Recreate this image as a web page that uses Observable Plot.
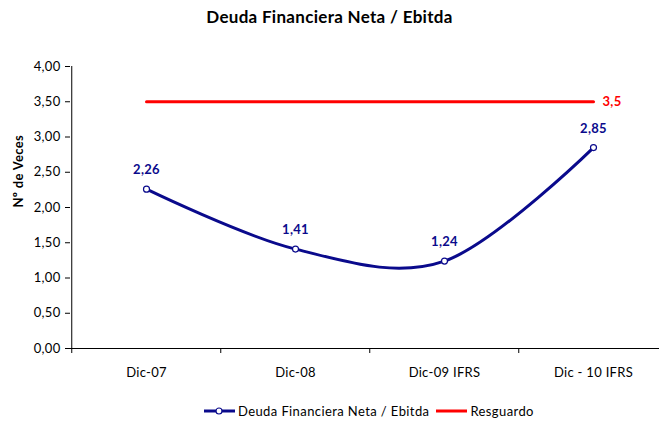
<!DOCTYPE html>
<html><head><meta charset="utf-8">
<script src="https://cdn.jsdelivr.net/npm/d3@7"></script>
<script src="https://cdn.jsdelivr.net/npm/@observablehq/plot@0.6"></script>
<style>
html,body{margin:0;padding:0;background:#fff;overflow:hidden;width:659px;height:423px;font-family:Lato,"Open Sans",sans-serif;}
#title{height:35px;line-height:34px;text-align:center;font-weight:bold;font-size:17px;letter-spacing:0.3px;color:#000;width:659px;}
#legend{display:flex;align-items:center;height:33px;padding-left:203px;font-size:13px;letter-spacing:0.4px;color:#000;}
#chart{width:659px;height:359px;overflow:hidden}
#chart svg{display:block;max-width:none !important}
</style></head>
<body>
<div id="title">Deuda Financiera Neta / Ebitda</div>
<div id="chart"></div>
<div id="legend"></div>
<script>
const categories = ["Dic-07", "Dic-08", "Dic-09 IFRS", "Dic - 10 IFRS"];
const deuda = [2.26, 1.41, 1.24, 2.85];
const resguardo = [3.5, 3.5, 3.5, 3.5];
const yTicks = [0, 0.5, 1, 1.5, 2, 2.5, 3, 3.5, 4];
const seriesNames = ["Deuda Financiera Neta / Ebitda", "Resguardo"];
const colors = ["#0A0A8C", "#FF0000"];

const fmt2 = d => d.toFixed(2).replace(".", ",");
const fmtR = d => String(d).replace(".", ",");
const rows = categories.map((c, i) => ({cat: c, deuda: deuda[i], resguardo: resguardo[i]}));
const last = rows.slice(-1);

const W = 669, ML = 70, MR = 1;
const step = (W - ML - MR) / categories.length;

const plot = Plot.plot({
  width: W, height: 359,
  marginTop: 31, marginLeft: ML, marginRight: MR, marginBottom: 46,
  style: {fontFamily: "Lato, 'Open Sans', sans-serif", fontSize: "13px", letterSpacing: "0.3px", color: "#000", background: "transparent", overflow: "visible", maxWidth: "none"},
  x: {type: "point", domain: categories, padding: 0.5, axis: null},
  y: {domain: [0, 4], axis: null},
  marks: [
    Plot.axisY({ticks: yTicks, tickFormat: fmt2, tickSize: 5, tickPadding: 5, label: null, fontSize: 13}),
    Plot.ruleX([0], {x: () => categories[0], dx: -step / 2, y1: 0, y2: 4, stroke: "#000"}),
    Plot.ruleY([0], {stroke: "#000"}),
    Plot.axisX({ticks: categories, tickSize: 5, text: null, label: null, dx: -step / 2}),
    Plot.axisX({ticks: categories, tickSize: 0, tickPadding: 19, label: null, fontSize: 13}),
    Plot.text(["Nº de Veces"], {frameAnchor: "left", dx: -52, rotate: -90, fontWeight: "bold", fontSize: 13}),
    Plot.line(rows, {x: "cat", y: "resguardo", stroke: colors[1], strokeWidth: 3}),
    Plot.text(last, {x: "cat", y: "resguardo", text: d => fmtR(d.resguardo), dx: 9, textAnchor: "start", fill: colors[1], fontWeight: "bold", fontSize: 13}),
    Plot.line(rows, {x: "cat", y: "deuda", stroke: colors[0], strokeWidth: 3, curve: d3.curveCardinal.tension(0)}),
    Plot.dot(rows, {x: "cat", y: "deuda", r: 3, fill: "#fff", stroke: colors[0], strokeWidth: 1.2}),
    Plot.text(rows, {x: "cat", y: "deuda", text: d => fmt2(d.deuda), dy: -19, fill: colors[0], fontWeight: "bold", fontSize: 13})
  ]
});
document.getElementById("chart").appendChild(plot);

const legend = document.getElementById("legend");
seriesNames.forEach((name, i) => {
  const sw = document.createElementNS("http://www.w3.org/2000/svg", "svg");
  sw.setAttribute("width", 33); sw.setAttribute("height", 10);
  sw.innerHTML = `<line x1="1" x2="32" y1="5" y2="5" stroke="${colors[i]}" stroke-width="3"/>` +
    (i === 0 ? `<circle cx="16" cy="5" r="3" fill="#fff" stroke="${colors[i]}" stroke-width="1.2"/>` : "");
  const s = document.createElement("span");
  s.textContent = name;
  s.style.marginRight = i === 0 ? "6px" : "0";
  s.style.marginLeft = "2px";
  legend.appendChild(sw);
  legend.appendChild(s);
});
</script>
</body></html>
